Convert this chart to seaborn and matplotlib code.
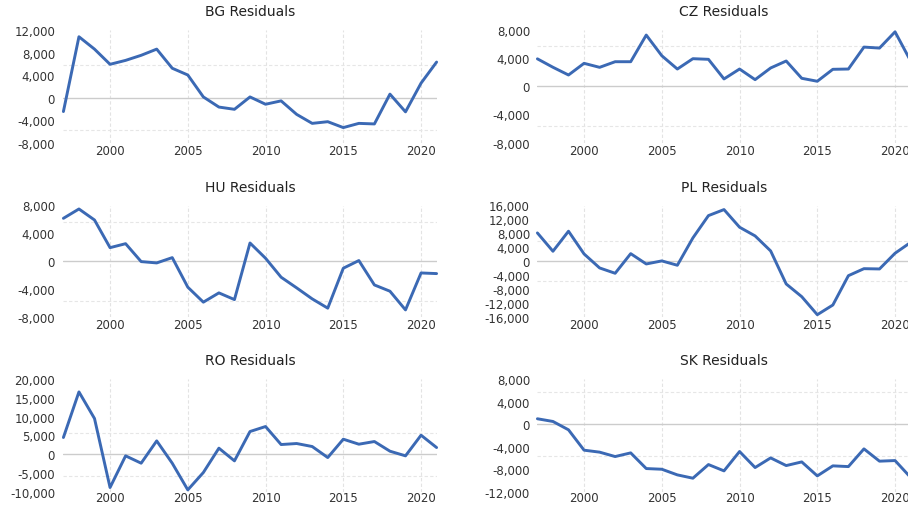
import matplotlib
matplotlib.use("Agg")
import matplotlib.pyplot as plt
import pandas as pd
import seaborn as sns

# Residuals by country, 1997-2021
years = list(range(1997, 2022))

bg = [-2500, 10800, 8600, 5900, 6600, 7500, 8600, 5200, 4000, 100, -1700, -2100,
      100, -1200, -600, -3000, -4600, -4300, -5350, -4600, -4700, 600, -2550, 2550, 6300]
cz = [3900, 2700, 1600, 3260, 2690, 3490, 3490, 7280, 4340, 2450, 3920, 3830,
      1040, 2450, 940, 2600, 3590, 1130, 710, 2410, 2450, 5570, 5430, 7740, 3600]
hu = [6160, 7500, 5920, 1950, 2520, -50, -240, 520, -3720, -5870, -4540, -5500,
      2620, 430, -2290, -3820, -5400, -6730, -1000, 100, -3400, -4300, -6980, -1680, -1770]
pl = [8130, 2870, 8620, 2100, -1920, -3450, 2180, -780, 100, -1150, 6700, 13100,
      14830, 9770, 7270, 2960, -6520, -10170, -15340, -12560, -4140, -2130, -2210, 2300, 5400]
ro = [4440, 16570, 9490, -8860, -440, -2390, 3540, -2400, -9490, -4870, 1600, -1770,
      6030, 7360, 2570, 2840, 2040, -890, 3990, 2660, 3370, 800, -440, 5050, 1770]
sk = [950, 470, -1010, -4620, -4970, -5750, -5100, -7880, -8000, -9000, -9590, -7170,
      -8290, -4860, -7700, -5990, -7350, -6700, -9180, -7400, -7530, -4390, -6570, -6460, -9450]

bg_ticks = [12000, 8000, 4000, 0, -4000, -8000]
cz_ticks = [8000, 4000, 0, -4000, -8000]
hu_ticks = [8000, 4000, 0, -4000, -8000]
pl_ticks = [16000, 12000, 8000, 4000, 0, -4000, -8000, -12000, -16000]
ro_ticks = [20000, 15000, 10000, 5000, 0, -5000, -10000]
sk_ticks = [8000, 4000, 0, -4000, -8000, -12000]

year_ticks = [2000, 2005, 2010, 2015, 2020]
grid_levels = [5700, -5700]

panels = [
    ("BG Residuals", bg, bg_ticks),
    ("CZ Residuals", cz, cz_ticks),
    ("HU Residuals", hu, hu_ticks),
    ("PL Residuals", pl, pl_ticks),
    ("RO Residuals", ro, ro_ticks),
    ("SK Residuals", sk, sk_ticks),
]

sns.set_theme(style="white")
plt.rcParams["font.family"] = ["DejaVu Sans"]

W, H = 908, 506
fig = plt.figure(figsize=(W / 100, H / 100), dpi=100)

# panel boxes in pixels: (left, right, top, bottom)
cols = [(63.4, 436.6), (537.4, 910.6)]
rows = [(31.0, 143.5), (206.5, 318.0), (380.0, 492.8)]
xpads = [1.0, 1.0, -0.5]

line_color = "#3b69b4"
text_color = "#333333"

for i, (title, values, ticks) in enumerate(panels):
    r = i // 2
    (x0, x1), (t, b) = cols[i % 2], rows[r]
    ax = fig.add_axes([x0 / W, 1 - b / H, (x1 - x0) / W, (b - t) / H])
    df = pd.DataFrame({"year": years, "value": values})
    sns.lineplot(data=df, x="year", y="value", ax=ax, color=line_color,
                 linewidth=2.1, zorder=3, clip_on=False)
    ax.set_xlim(years[0], years[-1])
    ax.set_ylim(min(ticks), max(ticks))
    ax.set_xticks(year_ticks)
    ax.set_xticklabels([str(y) for y in year_ticks])
    ax.set_yticks(ticks)
    ax.set_yticklabels([f"{v:,}" for v in ticks])
    ax.set_xlabel("")
    ax.set_ylabel("")
    for s in ax.spines.values():
        s.set_visible(False)
    ax.tick_params(axis="both", length=0, labelsize=8.5, labelcolor=text_color)
    ax.tick_params(axis="x", pad=xpads[r])
    ax.tick_params(axis="y", pad=6 if i % 2 == 0 else 5.3)
    ax.grid(axis="x", color="#e3e3e3", linestyle=(0, (3, 2)), linewidth=0.8)
    ax.grid(axis="y", visible=False)
    for g in grid_levels:
        ax.axhline(g, color="#e6e6e6", linestyle=(0, (3, 2)), linewidth=0.8, zorder=1)
    ax.axhline(0, color="#cccccc", linewidth=1.0, zorder=2)
    ax.set_title(title, fontsize=10, color="#222222", pad=10.5)

fig.savefig("out.png", dpi=100)
